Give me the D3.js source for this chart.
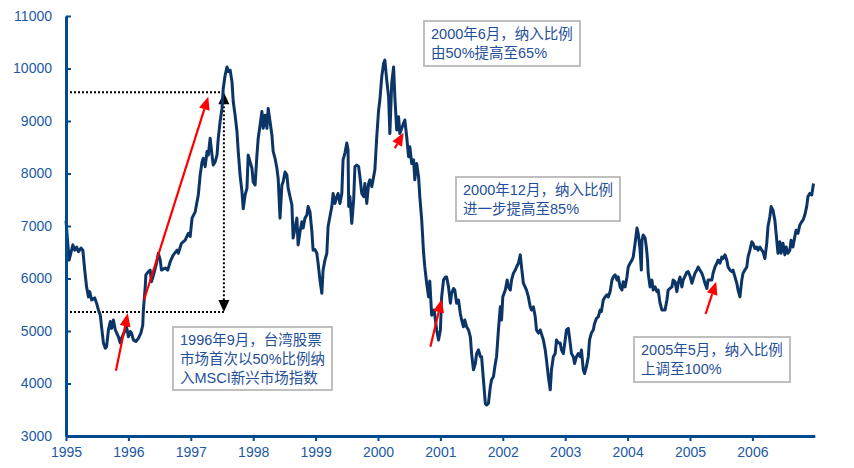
<!DOCTYPE html>
<html>
<head>
<meta charset="utf-8">
<script src="https://cdn.jsdelivr.net/npm/d3@7"></script>
<style>
  body { margin: 0; background: #fff; }
  svg { display: block; }
  text { font-family: "Liberation Sans", Arial, "Noto Sans CJK SC", sans-serif; }
</style>
</head>
<body>
<svg id="chart" width="854" height="468"></svg>
<script>
// Taiwan weighted index, 1995-2006 (years since 1995, index level)
const years = [
  0.00,0.02,0.05,0.11,0.14,0.17,0.20,0.24,0.27,0.30,0.33,0.36,0.38,0.41,0.46,0.49,0.52,0.55,0.57,0.60,
  0.63,0.65,0.68,0.71,0.73,0.76,0.79,0.84,0.87,0.89,0.95,0.97,1.00,1.03,1.05,1.08,1.12,1.16,1.20,1.23,
  1.24,1.27,1.28,1.32,1.35,1.37,1.41,1.45,1.48,1.51,1.53,1.59,1.63,1.67,1.72,1.78,1.80,1.85,1.91,1.96,
  1.99,2.02,2.07,2.12,2.15,2.18,2.20,2.23,2.26,2.28,2.31,2.34,2.36,2.39,2.42,2.44,2.47,2.50,2.52,2.55,
  2.58,2.60,2.63,2.66,2.68,2.71,2.74,2.76,2.79,2.82,2.84,2.87,2.90,2.92,2.95,2.98,3.00,3.03,3.06,3.08,
  3.11,3.14,3.16,3.19,3.22,3.24,3.27,3.30,3.32,3.35,3.38,3.40,3.43,3.46,3.48,3.51,3.54,3.56,3.62,3.64,
  3.67,3.70,3.72,3.75,3.78,3.80,3.83,3.86,3.88,3.91,3.94,3.96,3.99,4.02,4.04,4.07,4.10,4.12,4.15,4.18,
  4.20,4.23,4.26,4.28,4.31,4.34,4.36,4.39,4.42,4.44,4.47,4.50,4.52,4.53,4.55,4.58,4.61,4.63,4.66,4.69,
  4.71,4.74,4.77,4.79,4.82,4.85,4.87,4.90,4.93,4.95,4.98,5.01,5.03,5.06,5.09,5.11,5.14,5.17,5.19,5.22,
  5.25,5.27,5.30,5.33,5.35,5.41,5.43,5.46,5.49,5.51,5.54,5.57,5.59,5.62,5.65,5.67,5.70,5.73,5.75,5.78,
  5.81,5.83,5.86,5.90,5.94,5.97,6.00,6.02,6.05,6.08,6.10,6.13,6.16,6.18,6.21,6.23,6.26,6.29,6.32,6.34,
  6.37,6.39,6.42,6.45,6.48,6.50,6.53,6.56,6.58,6.61,6.64,6.66,6.69,6.72,6.74,6.77,6.80,6.82,6.85,6.88,
  6.90,6.93,6.96,6.98,7.00,7.04,7.07,7.09,7.12,7.14,7.17,7.20,7.22,7.25,7.28,7.30,7.33,7.38,7.41,7.44,
  7.46,7.49,7.52,7.54,7.57,7.60,7.65,7.68,7.70,7.73,7.76,7.78,7.81,7.84,7.86,7.89,7.92,7.94,7.97,8.00,
  8.02,8.05,8.08,8.10,8.13,8.15,8.18,8.21,8.24,8.26,8.29,8.31,8.34,8.37,8.39,8.42,8.45,8.47,8.50,8.53,
  8.56,8.58,8.61,8.64,8.67,8.69,8.72,8.75,8.77,8.80,8.83,8.85,8.88,8.91,8.93,8.96,8.99,9.01,9.04,9.07,
  9.09,9.12,9.15,9.17,9.20,9.22,9.23,9.25,9.28,9.30,9.32,9.33,9.36,9.39,9.41,9.44,9.47,9.49,9.52,9.55,
  9.60,9.63,9.65,9.68,9.71,9.73,9.76,9.79,9.81,9.84,9.87,9.89,9.95,9.97,10.00,10.03,10.08,10.11,10.13,10.19,
  10.21,10.24,10.27,10.29,10.35,10.37,10.40,10.43,10.45,10.48,10.51,10.53,10.56,10.59,10.61,10.64,10.67,10.69,10.72,10.75,
  10.77,10.80,10.83,10.85,10.88,10.91,10.93,10.96,10.99,11.01,11.04,11.07,11.09,11.12,11.15,11.17,11.20,11.23,11.25,11.28,
  11.30,11.33,11.36,11.38,11.41,11.44,11.46,11.49,11.52,11.54,11.57,11.60,11.62,11.65,11.68,11.70,11.73,11.76,11.79,11.81,
  11.84,11.87,11.89,11.92,11.95,11.98
];
const index = [
  7100,6800,6350,6640,6540,6600,6510,6580,6540,6160,5840,5650,5750,5590,5630,5530,5400,5300,5080,4770,
  4670,4700,5020,5180,5050,5210,5020,4890,4770,4860,5020,5080,4890,4990,4960,4830,4800,4860,4960,5110,
  5400,5840,6070,6130,6160,5940,6100,6290,6480,6350,6160,6200,6160,6320,6450,6540,6480,6670,6730,6860,
  6800,7150,7270,7590,7970,8220,8290,8130,8420,8350,8670,8350,8160,8220,8350,8670,8990,9240,9620,9870,
  10030,9940,9970,9750,9370,9110,8800,8420,7970,7650,7330,7590,7720,8350,8220,8100,7840,7780,8350,8670,
  8920,9180,8860,9110,8860,9240,8990,8730,8420,8290,8100,7910,7150,7780,7840,8030,7970,7720,7400,6770,
  6960,7150,6640,6890,7080,6960,7150,7210,7370,7270,6900,6540,6550,6480,6290,5970,5720,6160,6350,6480,
  6990,7180,7370,7620,7430,7560,7620,7430,7620,8260,8390,8580,8450,7370,7560,7050,7500,8130,8160,8130,
  7940,7620,7560,7810,7430,7810,7880,7750,7940,8070,8700,9210,9400,9840,10100,10160,9780,9460,8760,9720,
  10030,9460,8830,9080,8760,8960,9020,8700,8320,8510,8190,8260,7880,8190,7940,7560,7120,6500,6220,5910,
  5650,5950,5300,5400,5020,4830,5020,5650,5970,6030,6030,5840,5530,5720,5810,5780,5530,5590,5330,5210,
  5080,5210,5080,5020,4890,4570,4260,4380,4570,4640,4510,4510,4070,3620,3590,3620,3940,4070,4130,4380,
  4510,5020,5460,5210,5650,5780,5970,5840,5780,5970,6100,6160,6220,6290,6450,6220,5910,5780,5650,5460,
  5400,5460,5270,5020,4960,5020,4830,4640,4450,4130,3880,4260,4510,4570,4830,4770,4770,4640,4570,4830,
  5020,5050,4770,4570,4510,4380,4510,4570,4510,4640,4260,4190,4320,4510,4830,4960,5020,5140,5240,5270,
  5400,5370,5590,5650,5690,5650,5750,5970,6030,6070,5970,6030,5840,5780,5940,5840,6030,6220,6290,6350,
  6410,6670,6960,6860,6540,6160,6730,6830,6770,6600,6350,6100,5840,5970,5780,5840,5750,5780,5530,5400,
  5400,5590,5780,5810,5840,5970,5940,5750,5910,6030,5840,5970,6120,6130,6050,5910,6100,6160,6220,6100,
  6030,5910,5810,5970,5970,6100,6220,6290,6350,6290,6410,6380,6450,6350,6220,6160,6130,6160,6030,5910,
  5780,5650,5970,6100,6160,6220,6410,6540,6700,6670,6570,6600,6540,6600,6540,6510,6380,6670,6990,7180,
  7370,7300,7110,6860,6480,6700,6480,6670,6450,6600,6480,6540,6730,6600,6800,6920,6860,7020,7080,7110,
  7210,7370,7560,7620,7590,7810
];
const xTicks = [1995,1996,1997,1998,1999,2000,2001,2002,2003,2004,2005,2006];
const yTicks = [3000,4000,5000,6000,7000,8000,9000,10000,11000];

// 1996-97 rally: start and end levels marked by dotted guides
const rallyLevels = [5360, 9550];
const rallyYear = 1997.53;

// red arrows: [fromYear, fromValue, toYear, toValue]
const arrows = [
  [1995.80, 4244, 1995.99, 5337],
  [1996.25, 5590, 1997.28, 9463],
  [2000.27, 8480, 2000.41, 8777],
  [2000.84, 4700, 2001.02, 5604],
  [2005.25, 5324, 2005.42, 5939]
];

const notes = [
  { x: 173, y: 327, w: 159, h: 63, lines: ["1996年9月，台湾股票", "市场首次以50%比例纳", "入MSCI新兴市场指数"] },
  { x: 424, y: 21,  w: 156, h: 45, lines: ["2000年6月，纳入比例", "由50%提高至65%"] },
  { x: 456, y: 177, w: 164, h: 44, lines: ["2000年12月，纳入比例", "进一步提高至85%"] },
  { x: 634, y: 337, w: 156, h: 45, lines: ["2005年5月，纳入比例", "上调至100%"] }
];

const svg = d3.select('#chart');
const axisColor = '#004b8d';
const labelColor = '#1b5aa5';

const x = d3.scaleLinear().domain([1995, 2007]).range([66, 814.8]);
const y = d3.scaleLinear().domain([3000, 11000]).range([436, 16]);

const series = years.map((t, i) => ({ t: 1995 + t, v: index[i] }));

// dotted guides
const guides = svg.append('g').attr('class', 'guides')
  .attr('stroke', '#000').attr('stroke-width', 2).attr('stroke-dasharray', '2,2').attr('fill', 'none');
rallyLevels.forEach(v => {
  guides.append('line')
    .attr('x1', x(1995)).attr('x2', x(rallyYear))
    .attr('y1', y(v)).attr('y2', y(v));
});
guides.append('line')
  .attr('x1', x(rallyYear)).attr('x2', x(rallyYear))
  .attr('y1', y(rallyLevels[1]) + 10).attr('y2', y(rallyLevels[0]) - 10);

// black arrowheads on the vertical guide
const cx = x(rallyYear);
const tri = (tipX, tipY, dir) =>
  `M${tipX},${tipY}L${tipX - 5.5},${tipY + dir * 12}L${tipX + 5.5},${tipY + dir * 12}Z`;
svg.append('path').attr('d', tri(cx, y(rallyLevels[1]), 1)).attr('fill', '#000');
svg.append('path').attr('d', tri(cx, y(rallyLevels[0]), -1)).attr('fill', '#000');

// index line
svg.append('path')
  .datum(series)
  .attr('fill', 'none')
  .attr('stroke', '#0b3567')
  .attr('stroke-width', 3)
  .attr('stroke-linejoin', 'round')
  .attr('d', d3.line().x(d => x(d.t)).y(d => y(d.v)));

// red arrows
arrows.forEach(a => {
  const x1 = x(a[0]), y1 = y(a[1]), x2 = x(a[2]), y2 = y(a[3]);
  const ang = Math.atan2(y2 - y1, x2 - x1);
  const len = 13, half = 5.5;
  const bx = x2 - len * Math.cos(ang), by = y2 - len * Math.sin(ang);
  svg.append('line')
    .attr('x1', x1).attr('y1', y1).attr('x2', bx).attr('y2', by)
    .attr('stroke', '#ff0000').attr('stroke-width', 2.2);
  const px = -Math.sin(ang) * half, py = Math.cos(ang) * half;
  svg.append('path')
    .attr('d', `M${x2},${y2}L${bx + px},${by + py}L${bx - px},${by - py}Z`)
    .attr('fill', '#ff0000');
});

// axes
const xAxis = svg.append('g')
  .attr('transform', `translate(0,${y(3000)})`)
  .call(d3.axisBottom(x).tickValues(xTicks).tickFormat(d3.format('d')).tickSize(5).tickSizeOuter(0));
const yAxis = svg.append('g')
  .attr('transform', `translate(${x(1995)},0)`)
  .call(d3.axisLeft(y).tickValues(yTicks).tickFormat(d3.format('d')).tickSize(-5).tickSizeOuter(0).tickPadding(14));

[xAxis, yAxis].forEach(g => {
  g.select('.domain').attr('stroke', axisColor).attr('stroke-width', 3);
  g.selectAll('.tick line').attr('stroke', axisColor).attr('stroke-width', 2);
  g.selectAll('.tick text')
    .attr('fill', labelColor)
    .style('font-size', '14px')
    .style('font-family', '"Liberation Sans", Arial, sans-serif');
});
xAxis.selectAll('.tick text').attr('dy', '0.9em');

// note boxes
notes.forEach(n => {
  const g = svg.append('g').attr('transform', `translate(${n.x},${n.y})`);
  g.append('rect')
    .attr('width', n.w).attr('height', n.h)
    .attr('fill', '#fff').attr('stroke', '#bfbfbf').attr('stroke-width', 2);
  n.lines.forEach((s, i) => {
    g.append('text')
      .attr('x', 7).attr('y', 18 + i * 19)
      .attr('fill', '#1f4f99')
      .style('font-size', '14.5px')
      .text(s);
  });
});
</script>
</body>
</html>
